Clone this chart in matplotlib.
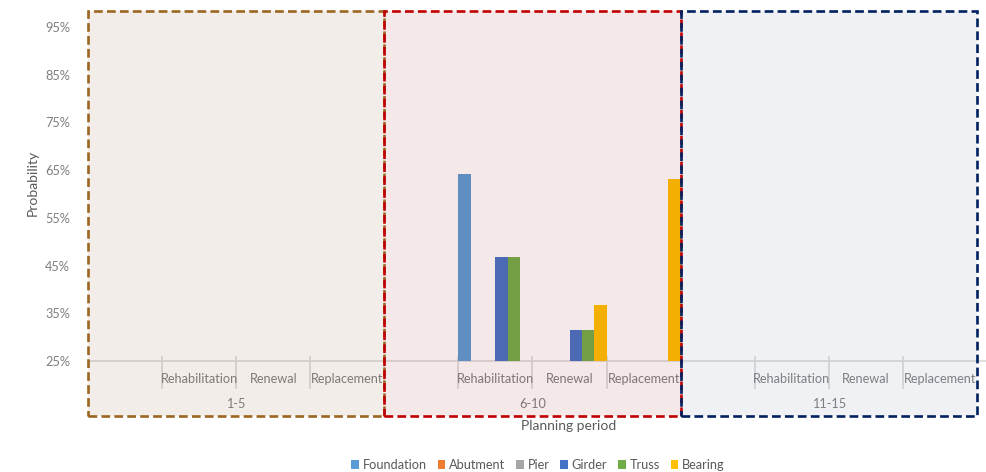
import matplotlib
matplotlib.use("Agg")
import matplotlib.pyplot as plt
import numpy as np
from matplotlib.patches import Rectangle

plt.rcParams['font.family'] = ['Lato', 'DejaVu Sans']

# data
periods = ["1-5", "6-10", "11-15"]
actions = ["", "Rehabilitation", "Renewal", "Replacement"]
series = ["Foundation", "Abutment", "Pier", "Girder", "Truss", "Bearing"]
colors = ["#5B9BD5", "#ED7D31", "#A5A5A5", "#4472C4", "#70AD47", "#FFC000"]
nan = np.nan
# probability (%) for each period/action pair, 12 slots per series
foundation = [nan, nan, nan, nan,  nan, 64.1, nan, nan,  nan, nan, nan, nan]
abutment   = [nan, nan, nan, nan,  nan, nan, nan, nan,  nan, nan, nan, nan]
pier       = [nan, nan, nan, nan,  nan, nan, nan, nan,  nan, nan, nan, nan]
girder     = [nan, nan, nan, nan,  nan, 46.7, 31.5, nan,  nan, nan, nan, nan]
truss      = [nan, nan, nan, nan,  nan, 46.7, 31.5, nan,  nan, nan, nan, nan]
bearing    = [nan, nan, nan, nan,  nan, nan, 36.7, 63.1,  nan, nan, nan, nan]
values = [foundation, abutment, pier, girder, truss, bearing]
yticks = [25, 35, 45, 55, 65, 75, 85, 95]

# period boxes: edge colour, overlay tint
box_edges = ["#9C6520", "#C00000", "#002060"]
box_tints = ["#875523", "#9B2323", "#737DA5"]

W, H = 987, 472
fig = plt.figure(figsize=(W / 100, H / 100), dpi=100)
ax = fig.add_axes([88 / W, 1 - 416 / H, 889 / W, 405 / H])

base = 25.0
ymin, ymax = 13.47, 98.35
ax.set_xlim(-0.5, 11.5)
ax.set_ylim(ymin, ymax)

ncat = len(periods) * len(actions)
x = np.arange(ncat)
bw = 1.0 / len(series)
for k, (name, vals) in enumerate(zip(series, values)):
    v = np.array(vals, dtype=float)
    ax.bar(x - 0.5 + (k + 0.5) * bw, v - base, bottom=base, width=bw,
           color=colors[k], label=name, zorder=3, linewidth=0)

# category axis line and tick marks
grey = "#D9D9D9"
ax.plot([-0.5, 11.63], [base, base], color=grey, lw=1.2, clip_on=False, zorder=2)
for b in np.arange(0.5, ncat - 1, 1.0):
    ax.plot([b, b], [base + 0.8, base - 5.6], color=grey, lw=1.2, zorder=2)

# labels under the axis
lab_col = "#7F7F7F"
fs = 9.2
for i in range(ncat):
    ax.text(i, base - 3.8, actions[i % 4], ha="center", va="center",
            fontsize=fs, color=lab_col, zorder=4)
for g, p in enumerate(periods):
    ax.text(g * 4 + 1.5, base - 9.0, p, ha="center", va="center",
            fontsize=fs, color=lab_col, zorder=4)

# dashed period boxes with a light tint over the bars
for g in range(len(periods)):
    ax.add_patch(Rectangle((g * 4 - 0.5, ymin), 4, ymax - ymin,
                           facecolor=box_tints[g], alpha=0.1, edgecolor="none",
                           zorder=5))
    ax.add_patch(Rectangle((g * 4 - 0.5, ymin), 4, ymax - ymin,
                           facecolor="none", edgecolor=box_edges[g], lw=1.9,
                           linestyle=(0, (3.3, 1.6)), zorder=6, clip_on=False))

ax.set_yticks(yticks)
ax.set_yticklabels(["%d%%" % t for t in yticks])
ax.tick_params(axis="y", length=0, pad=13, labelsize=fs, labelcolor=lab_col)
ax.set_xticks([])
for s in ax.spines.values():
    s.set_visible(False)
ax.patch.set_alpha(0)

fig.text(33 / W, 1 - 183 / H, "Probability", rotation=90, ha="center",
         va="center", fontsize=10, color="#595959")
fig.text(569 / W, 1 - 426 / H, "Planning period", ha="center", va="center",
         fontsize=10, color="#595959")

fig.legend(loc="center", bbox_to_anchor=(538 / W, 1 - 465 / H), ncol=6,
           frameon=False, fontsize=fs, handlelength=0.6, handleheight=0.6,
           handletextpad=0.3, columnspacing=0.85, labelcolor="#595959")

fig.savefig("out.png", dpi=100)
